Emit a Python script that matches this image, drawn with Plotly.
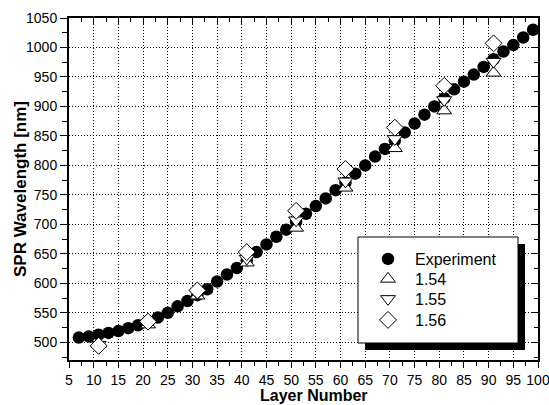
import plotly.graph_objects as go

# ---- data ----
exp_x = list(range(7, 100, 2))
exp_y = [508, 510, 513, 516, 519, 524, 529, 536, 542, 550, 561, 570, 580, 590, 603,
         615, 626, 639, 653, 666, 679, 691, 704, 718, 731, 744, 758, 771, 786, 800,
         815, 828, 842, 856, 871, 886, 900, 914, 929, 942, 954, 967, 980, 993, 1004,
         1017, 1030]
sim_x = [11, 21, 31, 41, 51, 61, 71, 81, 91]
y_154 = [497, 530, 579, 635, 694, 762, 829, 893, 957]
y_155 = [496, 532, 583, 642, 707, 773, 845, 911, 976]
y_156 = [494, 535, 588, 653, 723, 794, 864, 935, 1007]
x_ticks = list(range(5, 101, 5))
y_ticks = list(range(500, 1051, 50))

FONT = "Liberation Sans, Arial, sans-serif"

L, R, T, B = 69, 11, 18, 45
W, H = 549, 405
pw, ph = W - L - R, H - T - B

def px(xp):
    return (xp - L) / pw

def py(yp):
    return (H - B - yp) / ph

fig = go.Figure()
fig.add_trace(go.Scatter(x=exp_x, y=exp_y, mode="markers", name="Experiment", legend="legend",
                         marker=dict(symbol="circle", size=12.5, color="black")))
fig.add_trace(go.Scatter(x=sim_x, y=y_154, mode="markers", name="1.54", legend="legend2",
                         marker=dict(symbol="triangle-up", size=13, color="white",
                                     line=dict(color="black", width=1))))
fig.add_trace(go.Scatter(x=sim_x, y=y_155, mode="markers", name="1.55", legend="legend3",
                         marker=dict(symbol="triangle-down", size=13, color="white",
                                     line=dict(color="black", width=1))))
fig.add_trace(go.Scatter(x=sim_x, y=y_156, mode="markers", name="1.56", legend="legend4",
                         marker=dict(symbol="diamond", size=13, color="white",
                                     line=dict(color="black", width=1))))

# mirror (inward) ticks on top / right
fig.add_trace(go.Scatter(x=[None], y=[None], xaxis="x2", yaxis="y2", showlegend=False))

common_axis = dict(showline=True, linecolor="black", linewidth=2, automargin=False,
                   zeroline=False, tickcolor="black", tickwidth=1)

def leg(ypix):
    return dict(x=px(361), y=py(ypix), xanchor="left", yanchor="middle",
                bgcolor="rgba(0,0,0,0)", borderwidth=0,
                font=dict(size=16, family=FONT), itemwidth=44)

fig.update_layout(
    width=W, height=H,
    margin=dict(l=L, r=R, t=T, b=B, autoexpand=False),
    paper_bgcolor="white", plot_bgcolor="white",
    font=dict(family=FONT, color="black", size=14),
    xaxis=dict(range=[5, 100], tickvals=x_ticks, ticks="outside", ticklen=6,
               showgrid=True, gridcolor="black", griddash="1px,2px", gridwidth=1,
               minor=dict(ticks="outside", ticklen=4, dtick=2.5, tick0=5,
                          tickcolor="black", showgrid=False),
               ticklabeloverflow="allow", ticklabelstandoff=0,
               tickfont=dict(size=14), **common_axis),
    yaxis=dict(range=[470, 1050], tickvals=y_ticks, ticks="outside", ticklen=7,
               showgrid=True, gridcolor="black", griddash="1px,2px", gridwidth=1,
               minor=dict(ticks="outside", ticklen=5, dtick=25, tick0=500,
                          tickcolor="black", showgrid=False),
               tickfont=dict(size=14), **common_axis),
    xaxis2=dict(range=[5, 100], overlaying="x", side="top", tickvals=x_ticks,
                ticks="inside", ticklen=6, showticklabels=False, showgrid=False,
                minor=dict(ticks="inside", ticklen=4, dtick=2.5, tick0=5, tickcolor="black"),
                **common_axis),
    yaxis2=dict(range=[470, 1050], overlaying="y", side="right", tickvals=y_ticks,
                ticks="inside", ticklen=6, showticklabels=False, showgrid=False,
                minor=dict(ticks="inside", ticklen=4, dtick=25, tick0=500, tickcolor="black"),
                **common_axis),
    showlegend=True,
    legend=leg(259), legend2=leg(279), legend3=leg(299), legend4=leg(320),
    annotations=[
        dict(text="<b>Layer Number</b>", xref="paper", yref="paper",
             x=px(314), y=py(396), xanchor="center", yanchor="middle",
             showarrow=False, font=dict(size=16, family=FONT)),
        dict(text="<b>SPR Wavelength [nm]</b>", xref="paper", yref="paper",
             x=px(20), y=py(189), xanchor="center", yanchor="middle", textangle=-90,
             showarrow=False, font=dict(size=17, family=FONT)),
    ],
    shapes=[
        dict(type="rect", xref="paper", yref="paper", layer="above",
             x0=px(365), x1=px(525), y0=py(350), y1=py(244),
             fillcolor="black", line=dict(width=0)),
        dict(type="rect", xref="paper", yref="paper", layer="above",
             x0=px(358), x1=px(518), y0=py(343), y1=py(237),
             fillcolor="white", line=dict(color="black", width=1)),
    ],
)

fig.write_html("out.html")
